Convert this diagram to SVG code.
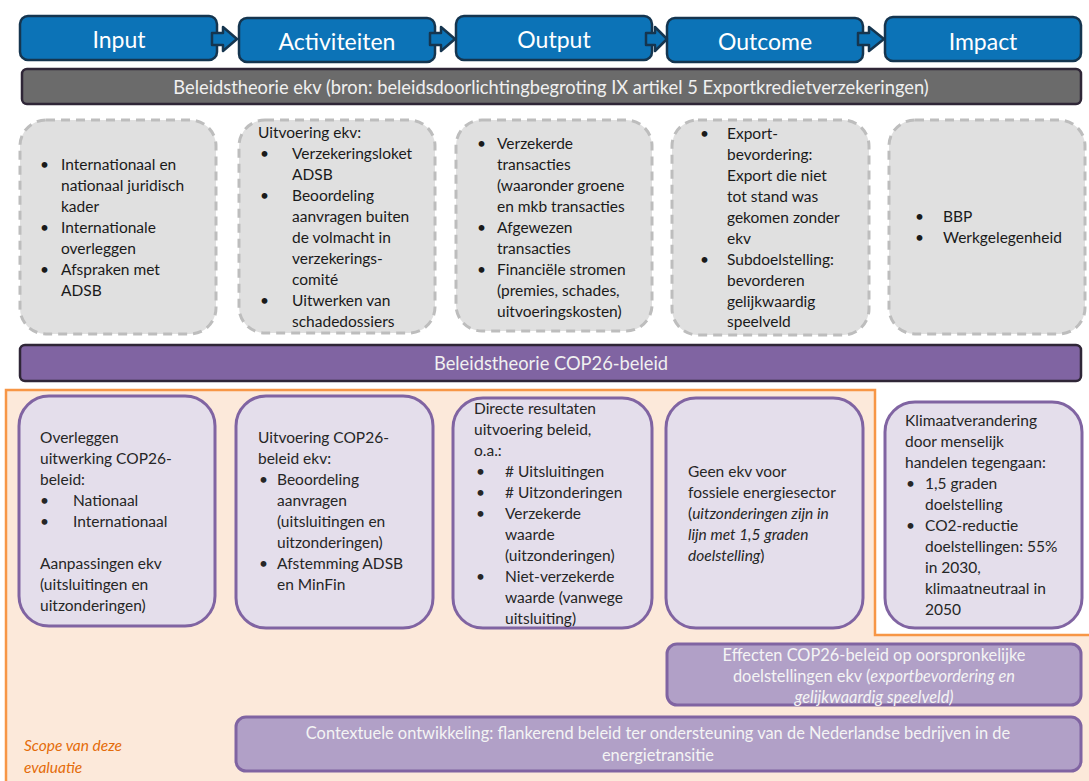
<svg xmlns="http://www.w3.org/2000/svg" width="1089" height="781" viewBox="0 0 1089 781">
<style>
text{font-family:Lato,"Open Sans","Liberation Sans",sans-serif;}
.hdr{fill:#0C73B7;stroke:#15354F;stroke-width:2.5;}
.hdrt{fill:#FFFFFF;font-size:23px;text-anchor:middle;dominant-baseline:central;}
.arr{fill:#0C73B7;stroke:#15354F;stroke-width:2.5;stroke-linejoin:round;}
.gbar{fill:#6B6B6B;stroke:#2F2637;stroke-width:2.5;}
.pbar{fill:#8064A2;stroke:#2F2637;stroke-width:2.5;}
.bart{fill:#F0F0F0;font-size:18.3px;text-anchor:middle;dominant-baseline:central;}
.gbox{fill:#E0E0E0;stroke:#BDBDBD;stroke-width:3;stroke-dasharray:9 6;}
.pbox{fill:#E4DEEB;stroke:#8064A2;stroke-width:3;}
.lbox{fill:#B1A0C7;stroke:#8064A2;stroke-width:3;}
.t{fill:#1A1A1A;font-size:15.5px;}
.pt{fill:#262626;font-size:15.5px;}
.lt{fill:#F4F4F4;font-size:16.4px;text-anchor:middle;}
.it{font-style:italic;}
.scope{fill:#E46C0A;font-size:15.5px;font-style:italic;}
</style>

<g id="scope">
<path d="M6,390 H875 V635 H1089 V781 H6 Z" fill="#FCE9DA"/>
<path d="M6,781 V390 H875 V635 H1089" fill="none" stroke="#F79646" stroke-width="2.5"/>
<text class="scope" x="24" y="751">Scope van deze</text>
<text class="scope" x="24" y="773">evaluatie</text>
</g>

<g id="hdr-input"><rect class="hdr" x="20" y="16" width="197" height="44" rx="8"/><text class="hdrt" x="119" y="39">Input</text></g>
<g id="hdr-activiteiten"><rect class="hdr" x="239" y="18" width="196" height="44" rx="8"/><text class="hdrt" x="337" y="41">Activiteiten</text></g>
<g id="hdr-output"><rect class="hdr" x="456" y="16" width="196" height="44" rx="8"/><text class="hdrt" x="554" y="39">Output</text></g>
<g id="hdr-outcome"><rect class="hdr" x="667" y="18" width="196" height="44" rx="8"/><text class="hdrt" x="765" y="41">Outcome</text></g>
<g id="hdr-impact"><rect class="hdr" x="885" y="17" width="196" height="44" rx="8"/><text class="hdrt" x="983" y="41">Impact</text></g>

<g id="connectors">
<path class="arr" d="M212,33 H223 V27 L237,39 L223,51 V45 H212 Z"/>
<path class="arr" d="M430,33 H441 V27 L455,39 L441,51 V45 H430 Z"/>
<path class="arr" d="M646,33 H655 V27 L667,39 L655,51 V45 H646 Z"/>
<path class="arr" d="M858,33 H869 V27 L884,39 L869,51 V45 H858 Z"/>
</g>

<g id="bar-ekv"><rect class="gbar" x="22" y="69" width="1059" height="35" rx="5"/><text class="bart" x="551" y="87">Beleidstheorie ekv (bron: beleidsdoorlichtingbegroting IX artikel 5 Exportkredietverzekeringen)</text></g>

<g id="ekv-input">
<rect class="gbox" x="20" y="120" width="196" height="214" rx="26"/>
<text class="t"><tspan x="40" y="170">•</tspan><tspan x="61" y="170">Internationaal en</tspan><tspan x="61" y="191">nationaal juridisch</tspan><tspan x="61" y="212">kader</tspan><tspan x="40" y="233">•</tspan><tspan x="61" y="233">Internationale</tspan><tspan x="61" y="254">overleggen</tspan><tspan x="40" y="275">•</tspan><tspan x="61" y="275">Afspraken met</tspan><tspan x="61" y="296">ADSB</tspan></text>
</g>

<g id="ekv-activiteiten">
<rect class="gbox" x="239" y="120" width="196" height="213" rx="26"/>
<text class="t"><tspan x="258" y="138">Uitvoering ekv:</tspan><tspan x="260" y="159">•</tspan><tspan x="292" y="159">Verzekeringsloket</tspan><tspan x="292" y="180">ADSB</tspan><tspan x="260" y="201">•</tspan><tspan x="292" y="201">Beoordeling</tspan><tspan x="292" y="222">aanvragen buiten</tspan><tspan x="292" y="243">de volmacht in</tspan><tspan x="292" y="264">verzekerings-</tspan><tspan x="292" y="285">comité</tspan><tspan x="260" y="306">•</tspan><tspan x="292" y="306">Uitwerken van</tspan><tspan x="292" y="327">schadedossiers</tspan></text>
</g>

<g id="ekv-output">
<rect class="gbox" x="456" y="120" width="196" height="211" rx="26"/>
<text class="t"><tspan x="477" y="149">•</tspan><tspan x="497" y="149">Verzekerde</tspan><tspan x="497" y="170">transacties</tspan><tspan x="497" y="191">(waaronder groene</tspan><tspan x="497" y="212">en mkb transacties</tspan><tspan x="477" y="233">•</tspan><tspan x="497" y="233">Afgewezen</tspan><tspan x="497" y="254">transacties</tspan><tspan x="477" y="275">•</tspan><tspan x="497" y="275">Financiële stromen</tspan><tspan x="497" y="296">(premies, schades,</tspan><tspan x="497" y="317">uitvoeringskosten)</tspan></text>
</g>

<g id="ekv-outcome">
<rect class="gbox" x="672" y="120" width="197" height="215" rx="26"/>
<text class="t"><tspan x="700" y="139">•</tspan><tspan x="727" y="139">Export-</tspan><tspan x="727" y="160">bevordering:</tspan><tspan x="727" y="181">Export die niet</tspan><tspan x="727" y="202">tot stand was</tspan><tspan x="727" y="223">gekomen zonder</tspan><tspan x="727" y="244">ekv</tspan><tspan x="700" y="265">•</tspan><tspan x="727" y="265">Subdoelstelling:</tspan><tspan x="727" y="286">bevorderen</tspan><tspan x="727" y="307">gelijkwaardig</tspan><tspan x="727" y="327">speelveld</tspan></text>
</g>

<g id="ekv-impact">
<rect class="gbox" x="889" y="120" width="196" height="214" rx="26"/>
<text class="t"><tspan x="915" y="222">•</tspan><tspan x="943" y="222">BBP</tspan><tspan x="915" y="243">•</tspan><tspan x="943" y="243">Werkgelegenheid</tspan></text>
</g>

<g id="bar-cop26"><rect class="pbar" x="20" y="345" width="1061" height="36" rx="5"/><text class="bart" x="551" y="363">Beleidstheorie COP26-beleid</text></g>

<g id="cop-input">
<rect class="pbox" x="19" y="396" width="196" height="230" rx="30"/>
<text class="pt"><tspan x="40" y="443">Overleggen</tspan><tspan x="40" y="464">uitwerking COP26-</tspan><tspan x="40" y="485">beleid:</tspan><tspan x="40" y="506">•</tspan><tspan x="73" y="506">Nationaal</tspan><tspan x="40" y="527">•</tspan><tspan x="73" y="527">Internationaal</tspan><tspan x="40" y="569">Aanpassingen ekv</tspan><tspan x="40" y="590">(uitsluitingen en</tspan><tspan x="40" y="611">uitzonderingen)</tspan></text>
</g>

<g id="cop-activiteiten">
<rect class="pbox" x="236" y="396" width="197" height="232" rx="30"/>
<text class="pt"><tspan x="258" y="443">Uitvoering COP26-</tspan><tspan x="258" y="464">beleid ekv:</tspan><tspan x="259" y="485">•</tspan><tspan x="277" y="485">Beoordeling</tspan><tspan x="277" y="506">aanvragen</tspan><tspan x="277" y="527">(uitsluitingen en</tspan><tspan x="277" y="548">uitzonderingen)</tspan><tspan x="259" y="569">•</tspan><tspan x="277" y="569">Afstemming ADSB</tspan><tspan x="277" y="590">en MinFin</tspan></text>
</g>

<g id="cop-output">
<rect class="pbox" x="453" y="398" width="199" height="230" rx="30"/>
<text class="pt"><tspan x="474" y="414">Directe resultaten</tspan><tspan x="474" y="435">uitvoering beleid,</tspan><tspan x="474" y="456">o.a.:</tspan><tspan x="476" y="477">•</tspan><tspan x="505" y="477"># Uitsluitingen</tspan><tspan x="476" y="498">•</tspan><tspan x="505" y="498"># Uitzonderingen</tspan><tspan x="476" y="519">•</tspan><tspan x="505" y="519">Verzekerde</tspan><tspan x="505" y="540">waarde</tspan><tspan x="505" y="561">(uitzonderingen)</tspan><tspan x="476" y="582">•</tspan><tspan x="505" y="582">Niet-verzekerde</tspan><tspan x="505" y="603">waarde (vanwege</tspan><tspan x="505" y="624">uitsluiting)</tspan></text>
</g>

<g id="cop-outcome">
<rect class="pbox" x="666" y="398" width="197" height="230" rx="30"/>
<text class="pt"><tspan x="688" y="477">Geen ekv voor</tspan><tspan x="688" y="498">fossiele energiesector</tspan><tspan x="688" y="519">(</tspan><tspan class="it">uitzonderingen zijn in</tspan><tspan class="it" x="688" y="540">lijn met 1,5 graden</tspan><tspan class="it" x="688" y="561">doelstelling</tspan><tspan>)</tspan></text>
</g>

<g id="cop-impact">
<rect class="pbox" x="885" y="402" width="197" height="226" rx="30"/>
<text class="pt"><tspan x="905" y="426">Klimaatverandering</tspan><tspan x="905" y="447">door menselijk</tspan><tspan x="905" y="468">handelen tegengaan:</tspan><tspan x="906" y="489">•</tspan><tspan x="925" y="489">1,5 graden</tspan><tspan x="925" y="510">doelstelling</tspan><tspan x="906" y="531">•</tspan><tspan x="925" y="531">CO2-reductie</tspan><tspan x="925" y="552">doelstellingen: 55%</tspan><tspan x="925" y="573">in 2030,</tspan><tspan x="925" y="594">klimaatneutraal in</tspan><tspan x="925" y="615">2050</tspan></text>
</g>

<g id="effecten">
<rect class="lbox" x="667" y="644" width="414" height="61" rx="10"/>
<text class="lt"><tspan x="874" y="661">Effecten COP26-beleid op oorspronkelijke</tspan><tspan x="874" y="682">doelstellingen ekv (<tspan class="it">exportbevordering en</tspan></tspan><tspan class="it" x="874" y="703">gelijkwaardig speelveld)</tspan></text>
</g>

<g id="contextueel">
<rect class="lbox" x="236" y="717" width="845" height="54" rx="10"/>
<text class="lt"><tspan x="658" y="739">Contextuele ontwikkeling: flankerend beleid ter ondersteuning van de Nederlandse bedrijven in de</tspan><tspan x="658" y="761">energietransitie</tspan></text>
</g>
</svg>
